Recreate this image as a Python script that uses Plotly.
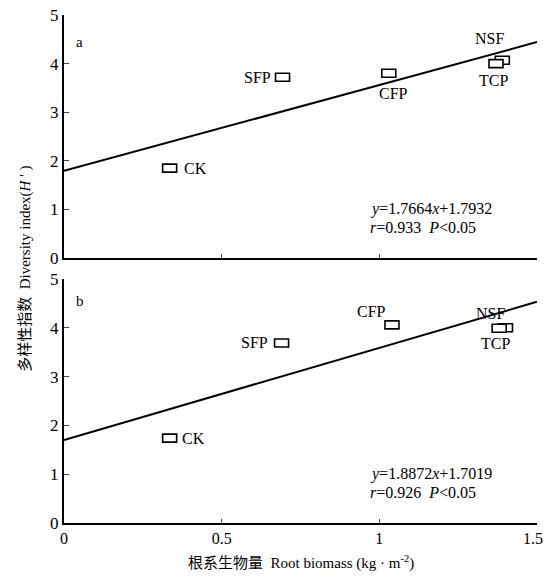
import plotly.graph_objects as go
from plotly.subplots import make_subplots

# ---- data ----
sites = ["CK", "SFP", "CFP", "NSF", "TCP"]
biomass_a = [0.335, 0.693, 1.03, 1.39, 1.37]
diversity_a = [1.85, 3.72, 3.80, 4.07, 4.00]
biomass_b = [0.335, 0.69, 1.04, 1.40, 1.38]
diversity_b = [1.74, 3.69, 4.06, 4.00, 3.99]
slope_a, icept_a = 1.7664, 1.7932
slope_b, icept_b = 1.8872, 1.7019
fit_x = [0, 1.5]
x_ticks = [0, 0.5, 1, 1.5]
x_ticktext = ["0", "0.5", "1", "1.5\u00a0\u00a0"]
y_ticks = [0, 1, 2, 3, 4, 5]

# label offsets (pixels) per site, per panel
offs_a = {"CK": (12, 0, "left"), "SFP": (-10, 0, "right"), "CFP": (5, -20, "center"),
          "NSF": (-13, 22, "center"), "TCP": (-3, -17, "center")}
offs_b = {"CK": (10, 0, "left"), "SFP": (-12, 0, "right"), "CFP": (-20, 13, "center"),
          "NSF": (-15, 14, "center"), "TCP": (-4, -15, "center")}

FONT = "Liberation Serif"

fig = make_subplots(rows=2, cols=1, vertical_spacing=0.04)
fig.update_layout(
    width=545, height=576,
    margin=dict(l=64, r=8, t=15, b=53, autoexpand=False),
    paper_bgcolor="white", plot_bgcolor="white",
    showlegend=False,
    font=dict(family=FONT, size=15, color="black"),
)
fig.update_yaxes(domain=[0.5217, 1.0], row=1, col=1)
fig.update_yaxes(domain=[0.0, 0.4803], row=2, col=1)

for row, (bx, dy, sl, ic, offs, eq, rr) in enumerate([
        (biomass_a, diversity_a, slope_a, icept_a, offs_a, "1.7664", "0.933"),
        (biomass_b, diversity_b, slope_b, icept_b, offs_b, "1.8872", "0.926")], start=1):
    xref = "x" if row == 1 else "x2"
    yref = "y" if row == 1 else "y2"
    fig.add_trace(go.Scatter(x=fit_x, y=[sl * v + ic for v in fit_x], mode="lines",
                             line=dict(color="black", width=2), hoverinfo="skip"),
                  row=row, col=1)
    for name, xv, yv in zip(sites, bx, dy):
        fig.add_shape(type="rect", xref=xref, yref=yref,
                      xsizemode="pixel", ysizemode="pixel",
                      xanchor=xv, yanchor=yv, x0=-7, x1=7, y0=-4, y1=4,
                      line=dict(color="black", width=1.6), fillcolor="white")
        ox, oy, al = offs[name]
        fig.add_annotation(x=xv, y=yv, xref=xref, yref=yref, text=name,
                           showarrow=False, xshift=ox, yshift=oy, xanchor=al,
                           font=dict(family=FONT, size=16))
    fig.add_annotation(x=0.05, y=4.45 if row == 1 else 4.55, xref=xref, yref=yref,
                       text="a" if row == 1 else "b", showarrow=False,
                       font=dict(family=FONT, size=15))
    fig.add_annotation(x=0.965, y=1.0, xref=xref, yref=yref,
                       text=f"<i>y</i>={eq}<i>x</i>+{ic}",
                       showarrow=False, xanchor="left", font=dict(family=FONT, size=16))
    fig.add_annotation(x=0.965, y=0.63, xref=xref, yref=yref,
                       text=f"<i>r</i>={rr}  <i>P</i>&lt;0.05",
                       showarrow=False, xanchor="left", font=dict(family=FONT, size=16))

    fig.update_xaxes(range=[0, 1.5], tickvals=x_ticks, ticktext=x_ticktext,
                     showticklabels=(row == 2), ticks="inside", ticklen=4,
                     showline=True, linecolor="black", linewidth=2, showgrid=False,
                     zeroline=False, automargin=False, ticklabeloverflow="allow",
                     tickfont=dict(family=FONT, size=16), row=row, col=1)
    fig.update_yaxes(range=[0, 5], tickvals=y_ticks, ticks="inside", ticklen=5,
                     showline=True, linecolor="black", linewidth=2, showgrid=False,
                     zeroline=False, automargin=False, ticklabeloverflow="allow",
                     tickfont=dict(family=FONT, size=17), row=row, col=1)

fig.add_annotation(x=-0.105, y=0.5, xref="paper", yref="paper", textangle=-90,
                   text="多样性指数  Diversity index(<i>H</i> ' )", showarrow=False,
                   font=dict(family=FONT + ", Noto Sans CJK SC", size=15))
fig.add_annotation(x=0.5, y=-0.1, xref="paper", yref="paper",
                   text="根系生物量  Root biomass (kg · m<sup>-2</sup>)", showarrow=False,
                   font=dict(family=FONT + ", Noto Sans CJK SC", size=15))

fig.write_html("out.html", config={"displayModeBar": False},
               post_script="document.body.style.margin='0px';")
